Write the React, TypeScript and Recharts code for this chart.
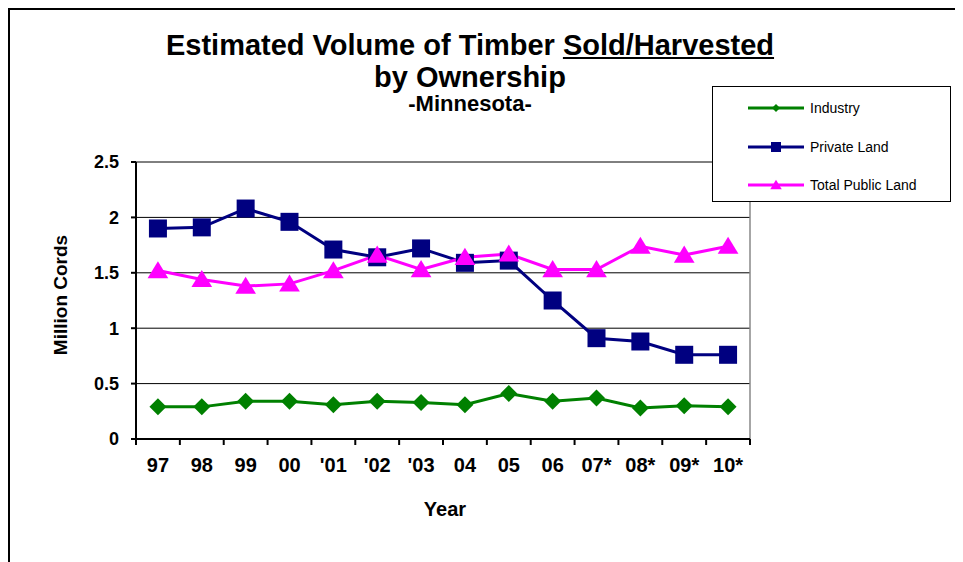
import React from "react";
import { LineChart, Line, XAxis, YAxis, CartesianGrid, Label } from "recharts";

const years = ["97", "98", "99", "00", "'01", "'02", "'03", "04", "05", "06", "07*", "08*", "09*", "10*"];
const industry = [0.29, 0.29, 0.34, 0.34, 0.31, 0.34, 0.33, 0.31, 0.41, 0.34, 0.37, 0.28, 0.3, 0.29];
const privateLand = [1.9, 1.91, 2.08, 1.96, 1.71, 1.64, 1.72, 1.59, 1.61, 1.25, 0.91, 0.88, 0.76, 0.76];
const publicLand = [1.52, 1.44, 1.38, 1.4, 1.52, 1.66, 1.53, 1.64, 1.67, 1.53, 1.53, 1.74, 1.66, 1.74];
const yTicks = [0, 0.5, 1, 1.5, 2, 2.5];

const seriesInfo = [
  { key: "industry", name: "Industry", color: "#008000", shape: "diamond" },
  { key: "privateLand", name: "Private Land", color: "#000080", shape: "square" },
  { key: "publicLand", name: "Total Public Land", color: "#FF00FF", shape: "triangle" },
];

const data = years.map((y, i) => ({
  year: y,
  industry: industry[i],
  privateLand: privateLand[i],
  publicLand: publicLand[i],
}));

const W = 955;
const H = 546;
const PAGE_H = 554;
const PLOT_LEFT = 128;
const PLOT_RIGHT = 742;
const PLOT_TOP = 154;
const PLOT_BOTTOM = 431;
const BAND = (PLOT_RIGHT - PLOT_LEFT) / years.length;
const FONT = "Arial, 'Liberation Sans', Helvetica, sans-serif";

function Marker({ shape, color, cx, cy, s }: { shape: string; color: string; cx: number; cy: number; s: number }) {
  if (shape === "square") {
    return <rect x={cx - s} y={cy - s} width={s * 2} height={s * 2} fill={color} />;
  }
  if (shape === "triangle") {
    return (
      <polygon
        points={`${cx},${cy - s * 1.05} ${cx + s * 1.15},${cy + s * 0.85} ${cx - s * 1.15},${cy + s * 0.85}`}
        fill={color}
      />
    );
  }
  return <polygon points={`${cx},${cy - s} ${cx + s},${cy} ${cx},${cy + s} ${cx - s},${cy}`} fill={color} />;
}

const makeDot = (shape: string, color: string, s: number) => (props: any) => {
  const { cx, cy, index } = props;
  if (cx == null || cy == null) return <g key={`d-${shape}-${index}`} />;
  return (
    <g key={`d-${shape}-${index}`}>
      <Marker shape={shape} color={color} cx={cx} cy={cy} s={s} />
    </g>
  );
};

const XTick = (props: any) => {
  const { x, y, payload, index } = props;
  const half = BAND / 2;
  return (
    <g>
      <line x1={x - half} y1={y} x2={x - half} y2={y + 6} stroke="#000" strokeWidth={2} />
      {index === years.length - 1 && (
        <line x1={x + half} y1={y} x2={x + half} y2={y + 6} stroke="#000" strokeWidth={2} />
      )}
      <text x={x} y={y + 33} textAnchor="middle" fontFamily={FONT} fontWeight="bold" fontSize={20} fill="#000">
        {payload.value}
      </text>
    </g>
  );
};

const LegendBox = () => (
  <div
    style={{
      position: "absolute",
      left: 704,
      top: 78,
      width: 237,
      height: 114,
      border: "1.5px solid #000",
      background: "#fff",
      fontFamily: FONT,
    }}
  >
    {seriesInfo.map((s, i) => (
      <div
        key={s.key}
        style={{ position: "absolute", left: 35, top: 12 + i * 38.5, height: 18, display: "flex", alignItems: "center" }}
      >
        <svg width={56} height={18} style={{ display: "block" }}>
          <line x1={0} y1={9} x2={56} y2={9} stroke={s.color} strokeWidth={3} />
          <Marker shape={s.shape} color={s.color} cx={28} cy={9} s={s.shape === "diamond" ? 4 : 5} />
        </svg>
        <span style={{ marginLeft: 6, fontSize: 14, color: "#000", whiteSpace: "nowrap" }}>{s.name}</span>
      </div>
    ))}
  </div>
);

export default function App() {
  return (
    <div style={{ position: "relative", width: W, height: PAGE_H, overflow: "hidden", background: "#fff" }}>
      <style>{`body{overflow:hidden}`}</style>
      <div
        style={{
          position: "absolute",
          left: 0,
          top: 0,
          width: W + 10,
          height: PAGE_H + 10,
          borderTop: "2px solid #000",
          borderLeft: "2px solid #000",
          boxSizing: "border-box",
        }}
      />
      <div
        style={{
          position: "absolute",
          left: 0,
          width: 924,
          textAlign: "center",
          fontFamily: FONT,
          fontWeight: "bold",
          color: "#000",
        }}
      >
        <div style={{ position: "absolute", top: 22, width: "100%", fontSize: 29, lineHeight: "30px" }}>
          Estimated Volume of Timber <span style={{ textDecoration: "underline" }}>Sold/Harvested</span>
        </div>
        <div style={{ position: "absolute", top: 54, width: "100%", fontSize: 29, lineHeight: "30px" }}>
          by Ownership
        </div>
        <div style={{ position: "absolute", top: 85, width: "100%", fontSize: 22, lineHeight: "22px" }}>
          -Minnesota-
        </div>
      </div>
      <LineChart
        width={W}
        height={H}
        data={data}
        margin={{ top: PLOT_TOP, right: W - PLOT_RIGHT, bottom: H - PLOT_BOTTOM - 40, left: PLOT_LEFT - 100 }}
        style={{ position: "absolute", left: 0, top: 0 }}
      >
        <CartesianGrid horizontal={true} vertical={false} stroke="#000" strokeWidth={1} strokeOpacity={1} />
        <CartesianGrid horizontal={false} vertical={true} verticalPoints={[PLOT_RIGHT]} stroke="#888" strokeWidth={1.5} />
        <XAxis
          dataKey="year"
          height={40}
          padding={{ left: BAND / 2, right: BAND / 2 }}
          tickLine={false}
          tickSize={0}
          tickMargin={0}
          axisLine={{ stroke: "#000", strokeWidth: 2 }}
          tick={<XTick />}
          interval={0}
        >
          <Label
            content={() => (
              <text x={437} y={508} textAnchor="middle" fontFamily={FONT} fontWeight="bold" fontSize={20} fill="#000">
                Year
              </text>
            )}
          />
        </XAxis>
        <YAxis
          width={100}
          domain={[0, 2.5]}
          ticks={yTicks}
          interval={0}
          tickSize={5}
          tickMargin={12}
          axisLine={{ stroke: "#000", strokeWidth: 2 }}
          tickLine={{ stroke: "#000", strokeWidth: 2 }}
          tick={{ fontFamily: FONT, fontWeight: "bold", fontSize: 18, fill: "#000" }}
        >
          <Label
            content={() => (
              <text
                x={52}
                y={287}
                transform="rotate(-90 52 287)"
                textAnchor="middle"
                dominantBaseline="central"
                fontFamily={FONT}
                fontWeight="bold"
                fontSize={19}
                fill="#000"
              >
                Million Cords
              </text>
            )}
          />
        </YAxis>
        <Line
          dataKey="industry"
          name="Industry"
          stroke="#008000"
          strokeWidth={3}
          isAnimationActive={false}
          dot={makeDot("diamond", "#008000", 8.5)}
          activeDot={false}
        />
        <Line
          dataKey="privateLand"
          name="Private Land"
          stroke="#000080"
          strokeWidth={3}
          isAnimationActive={false}
          dot={makeDot("square", "#000080", 9)}
          activeDot={false}
        />
        <Line
          dataKey="publicLand"
          name="Total Public Land"
          stroke="#FF00FF"
          strokeWidth={3}
          isAnimationActive={false}
          dot={makeDot("triangle", "#FF00FF", 9)}
          activeDot={false}
        />
      </LineChart>
      <LegendBox />
    </div>
  );
}
